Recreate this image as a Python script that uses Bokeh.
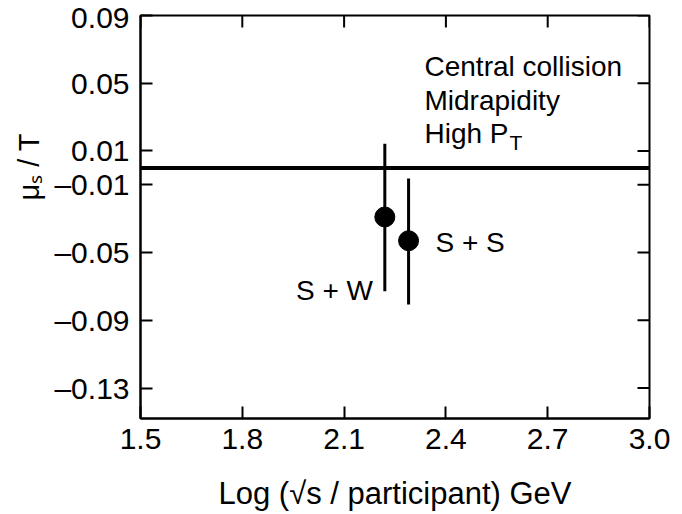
import math
from bokeh.plotting import figure
from bokeh.models import Range1d, LinearAxis, FixedTicker, Label, Span, CustomJSTickFormatter, Title
from bokeh.embed import file_html
from bokeh.resources import INLINE

# ---- data ----
systems = ["S + W", "S + S"]
x_vals = [2.22, 2.29]
mu_over_T = [-0.029, -0.043]
err_upper = [0.0143, -0.0062]
err_lower = [-0.0728, -0.0807]
reference_level = 0.0

x_ticks = [1.5, 1.8, 2.1, 2.4, 2.7, 3.0]
y_ticks = [0.09, 0.05, 0.01, -0.01, -0.05, -0.09, -0.13]
info_lines = ["Central collision", "Midrapidity", "High P"]

FONT = "Liberation Sans"
W, H = 682, 514
FL, FR, FT, FB = 140, 649, 15, 418
XR = (1.5, 3.0)
YR = (-0.148, 0.09)


def dx(px):
    return XR[0] + (px - FL) / (FR - FL) * (XR[1] - XR[0])


def dy(py):
    return YR[1] - (py - FT) / (FB - FT) * (YR[1] - YR[0])


p = figure(width=W, height=H, output_backend="svg", toolbar_location=None,
           x_range=Range1d(*XR), y_range=Range1d(*YR),
           min_border_left=FL, min_border_right=W - FR,
           min_border_top=FT, min_border_bottom=H - FB,
           x_axis_location=None, y_axis_location=None)
p.grid.visible = False
p.outline_line_color = "black"
p.outline_line_width = 2
p.background_fill_color = "white"
p.border_fill_color = "white"

xfmt = CustomJSTickFormatter(code="return tick.toFixed(1);")
yfmt = CustomJSTickFormatter(code="return tick.toFixed(2).replace('-', '\u2013');")


def style(ax):
    ax.axis_line_color = "black"
    ax.axis_line_width = 2
    ax.major_tick_line_color = "black"
    ax.major_tick_line_width = 2
    ax.major_tick_in = 12
    ax.major_tick_out = 0
    ax.minor_tick_line_color = None
    ax.major_label_text_font = FONT
    ax.major_label_text_color = "black"
    ax.major_label_text_font_size = "30px"


bottom = LinearAxis(ticker=FixedTicker(ticks=x_ticks), formatter=xfmt)
style(bottom)
bottom.major_label_standoff = 10
bottom.axis_label = "Log (\u221as / participant) GeV"
bottom.axis_label_text_font = FONT
bottom.axis_label_text_font_size = "31px"
bottom.axis_label_text_font_style = "normal"
bottom.axis_label_text_color = "black"
bottom.axis_label_standoff = 24
p.add_layout(bottom, "below")

left = LinearAxis(ticker=FixedTicker(ticks=y_ticks), formatter=yfmt)
style(left)
left.major_label_standoff = 11
p.add_layout(left, "left")

# y-axis title
ytitle = Title(text="\u03bc\u209b / T", align="left", offset=FB - 200,
               text_font=FONT, text_font_size="29px", text_font_style="normal",
               text_color="black", standoff=14)
p.add_layout(ytitle, "left")

# mirrored inward ticks on top and right
p.ray(x=x_ticks, y=[YR[1]] * len(x_ticks), length=12, length_units="screen",
      angle=-math.pi / 2, line_color="black", line_width=2)
p.ray(x=[XR[1]] * len(y_ticks), y=y_ticks, length=12, length_units="screen",
      angle=math.pi, line_color="black", line_width=2)

# reference line
p.add_layout(Span(location=reference_level, dimension="width", line_color="black", line_width=4))

# error bars and points
p.segment(x0=x_vals, y0=err_lower, x1=x_vals, y1=err_upper, line_color="black", line_width=3)
p.scatter(x=x_vals, y=mu_over_T, size=20, marker="circle", fill_color="black", line_color="black")

# system labels
p.add_layout(Label(x=dx(372.5), y=dy(290), text=systems[0], text_align="right",
                   text_baseline="alphabetic", text_font=FONT, text_font_size="28px",
                   text_color="black"))
p.add_layout(Label(x=dx(435), y=dy(241.7), text=systems[1], text_align="left",
                   text_baseline="alphabetic", text_font=FONT, text_font_size="28px",
                   text_color="black"))

# info block
info_fs = 28
for i, line in enumerate(info_lines):
    p.add_layout(Label(x=dx(424), y=dy(65.7 + 33.8 * i), text=line, text_align="left",
                       text_baseline="alphabetic", text_font=FONT,
                       text_font_size=f"{info_fs}px", text_color="black"))
p.add_layout(Label(x=dx(424 + 3.001 * info_fs + 1), y=dy(141.5), text="T", text_align="left",
                   text_baseline="alphabetic", text_font=FONT, text_font_size="21px",
                   text_color="black"))

open("out.html", "w").write(file_html(p, INLINE))
